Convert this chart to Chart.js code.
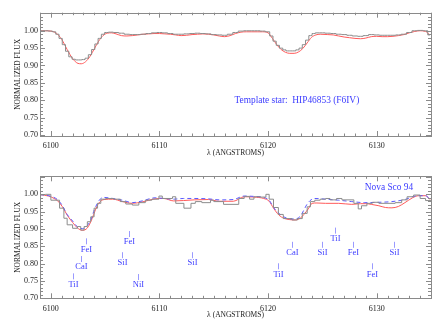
<!DOCTYPE html>
<html><head><meta charset="utf-8">
<script src="https://cdn.jsdelivr.net/npm/chart.js@4.4.1/dist/chart.umd.min.js"></script>
<style>
html,body{margin:0;padding:0;background:#fff;width:444px;height:327px;overflow:hidden}
canvas{position:absolute;left:0}
</style></head><body>
<canvas id="c1" width="444" height="160" style="top:0"></canvas>
<canvas id="c2" width="444" height="167" style="top:160px"></canvas>
<script>
// ---------- data ----------
const xTicks = [6100, 6110, 6120, 6130];
const xTickLabels = ['6100', '6110', '6120', '6130'];
const yTicks = [0.70, 0.75, 0.80, 0.85, 0.90, 0.95, 1.00];
const yTickLabels = ['0.70', '0.75', '0.80', '0.85', '0.90', '0.95', '1.00'];

// Top panel: template star observed (histogram) and model (red)
const topObsWave = [6099.0,6099.5,6100.0,6100.3,6100.6,6100.9,6101.2,6101.5,6101.8,6102.1,6102.4,6102.7,6103.0,6103.3,6103.6,6103.9,6104.2,6104.5,6104.8,6105.1,6105.5,6106.0,6106.5,6107.0,6107.5,6108.0,6108.5,6109.0,6109.5,6110.0,6110.5,6111.0,6111.5,6112.0,6112.5,6113.0,6113.5,6114.0,6114.5,6115.0,6115.5,6116.0,6116.5,6117.0,6117.5,6118.0,6118.5,6119.0,6119.5,6120.0,6120.3,6120.6,6120.9,6121.2,6121.5,6121.8,6122.1,6122.4,6122.7,6123.0,6123.3,6123.6,6123.9,6124.2,6124.5,6125.0,6125.5,6126.0,6126.5,6127.0,6127.5,6128.0,6128.5,6129.0,6129.5,6130.0,6130.5,6131.0,6131.5,6132.0,6132.5,6133.0,6133.5,6134.0,6134.5,6134.9];
const topObsFlux = [1.000,1.000,0.999,0.997,0.990,0.978,0.960,0.941,0.925,0.918,0.916,0.916,0.917,0.921,0.931,0.946,0.962,0.978,0.990,0.995,0.996,0.995,0.993,0.990,0.989,0.989,0.990,0.992,0.994,0.995,0.994,0.992,0.990,0.990,0.991,0.992,0.993,0.992,0.991,0.989,0.988,0.987,0.990,0.995,0.999,1.000,1.000,1.000,0.999,0.997,0.985,0.970,0.958,0.950,0.945,0.942,0.942,0.942,0.945,0.950,0.960,0.973,0.986,0.992,0.994,0.994,0.993,0.992,0.990,0.989,0.987,0.985,0.984,0.986,0.989,0.988,0.987,0.987,0.987,0.988,0.990,0.995,1.000,1.001,1.000,0.988];
const topModelWave = [6099.0,6099.5,6100.0,6100.5,6101.0,6101.5,6102.0,6102.5,6102.8,6103.2,6103.6,6104.0,6104.4,6104.8,6105.2,6105.6,6106.0,6106.5,6107.0,6107.5,6108.0,6108.5,6109.0,6109.5,6110.0,6110.5,6111.0,6111.5,6112.0,6112.5,6113.0,6113.5,6114.0,6114.5,6115.0,6115.5,6116.0,6116.5,6117.0,6117.5,6118.0,6118.5,6119.0,6119.5,6120.0,6120.4,6120.8,6121.2,6121.6,6122.0,6122.4,6122.8,6123.2,6123.6,6124.0,6124.4,6124.8,6125.5,6126.0,6126.5,6127.0,6127.5,6128.0,6128.5,6129.0,6129.5,6130.0,6130.5,6131.0,6131.5,6132.0,6132.5,6133.0,6133.5,6134.0,6134.5,6134.9];
const topModelFlux = [1.000,1.000,0.999,0.993,0.975,0.946,0.920,0.906,0.905,0.911,0.926,0.948,0.970,0.986,0.993,0.994,0.991,0.986,0.985,0.986,0.988,0.990,0.991,0.992,0.992,0.991,0.990,0.988,0.986,0.987,0.989,0.990,0.991,0.990,0.988,0.985,0.983,0.986,0.992,0.996,0.997,0.997,0.997,0.997,0.994,0.978,0.960,0.946,0.938,0.935,0.935,0.939,0.949,0.965,0.981,0.988,0.990,0.989,0.988,0.985,0.982,0.980,0.978,0.977,0.979,0.983,0.984,0.983,0.983,0.984,0.986,0.989,0.994,0.998,1.000,0.998,0.988];

// Bottom panel: Nova Sco 94 observed (histogram), model (red), model (blue dashed)
const novaObsWave = [6099.0,6099.5,6100.0,6100.8,6101.2,6101.5,6102.0,6102.45,6102.75,6103.06,6103.36,6103.67,6103.98,6104.3,6104.6,6105.05,6105.8,6106.4,6106.9,6107.5,6108.1,6108.7,6109.3,6109.95,6110.26,6111.2,6111.5,6112.25,6112.9,6113.3,6113.9,6114.7,6115.0,6115.9,6117.3,6117.8,6118.3,6118.7,6119.3,6119.8,6120.1,6120.5,6120.95,6121.4,6122.2,6122.7,6123.15,6123.6,6123.9,6124.3,6124.8,6125.3,6125.7,6126.3,6126.8,6127.9,6128.3,6128.6,6129.1,6129.6,6130.2,6131.7,6132.3,6132.8,6133.4,6134.0,6134.5,6135.0];
const novaObsFlux = [0.999,1.000,0.983,0.960,0.931,0.912,0.902,0.907,0.897,0.907,0.921,0.935,0.960,0.974,0.986,0.988,0.986,0.979,0.972,0.969,0.976,0.983,0.986,0.995,0.988,0.993,0.974,0.960,0.974,0.979,0.976,0.983,0.979,0.971,0.988,0.994,0.986,0.993,0.992,1.000,0.986,0.962,0.942,0.930,0.926,0.930,0.945,0.964,0.979,0.983,0.986,0.988,0.984,0.988,0.984,0.974,0.958,0.967,0.974,0.977,0.974,0.976,0.984,0.993,0.998,0.988,0.982,0.982];
const novaRedWave = [6099.0,6099.8,6100.3,6100.6,6101.07,6101.5,6102.0,6102.45,6102.9,6103.36,6103.8,6104.1,6104.4,6104.9,6105.7,6106.6,6107.5,6108.4,6109.6,6110.4,6111.3,6112.2,6113.2,6114.5,6115.5,6116.8,6117.8,6118.7,6119.6,6120.1,6120.5,6121.0,6121.45,6122.0,6122.5,6123.0,6123.3,6123.7,6124.05,6124.5,6125.3,6126.5,6127.7,6128.5,6129.0,6129.5,6130.2,6130.8,6131.4,6132.0,6132.6,6133.3,6133.85,6134.5,6134.9];
const novaRedFlux = [0.999,0.995,0.988,0.982,0.964,0.940,0.919,0.903,0.896,0.903,0.930,0.955,0.974,0.985,0.986,0.979,0.974,0.978,0.987,0.988,0.981,0.982,0.984,0.985,0.980,0.980,0.993,0.992,0.988,0.980,0.960,0.940,0.931,0.927,0.926,0.932,0.942,0.958,0.974,0.975,0.974,0.974,0.971,0.973,0.973,0.971,0.967,0.962,0.961,0.965,0.976,0.990,0.996,0.996,0.985];
const novaBlueWave = [6099.0,6099.8,6100.6,6101.07,6101.5,6102.0,6102.45,6102.9,6103.36,6103.7,6104.0,6104.3,6104.6,6104.9,6105.7,6106.6,6107.5,6108.4,6109.6,6110.4,6111.3,6112.2,6113.2,6114.5,6115.5,6116.8,6117.8,6118.7,6119.6,6120.1,6120.5,6121.0,6121.45,6122.0,6122.5,6123.0,6123.3,6123.6,6123.95,6124.3,6125.3,6126.5,6127.7,6128.9,6130.2,6131.4,6132.6,6133.4,6133.85,6134.5,6134.9];
const novaBlueFlux = [0.999,0.996,0.985,0.967,0.942,0.923,0.906,0.901,0.910,0.928,0.955,0.975,0.988,0.991,0.988,0.983,0.976,0.981,0.990,0.988,0.986,0.988,0.988,0.987,0.984,0.985,0.995,0.994,0.991,0.983,0.962,0.945,0.935,0.929,0.929,0.938,0.955,0.972,0.984,0.988,0.986,0.983,0.979,0.976,0.977,0.979,0.985,0.994,0.996,0.996,0.986];

// Line identifications (bottom panel)
const lineNames = ['TiI','CaI','FeI','SiI','FeI','NiI','SiI','TiI','CaI','SiI','TiI','FeI','FeI','SiI'];
const lineWaves = [6102.05,6102.76,6103.2,6106.52,6107.23,6108.05,6112.96,6120.95,6122.18,6124.93,6126.16,6127.85,6129.53,6131.58];
const lineLevels = [0.772,0.822,0.873,0.833,0.894,0.770,0.833,0.801,0.863,0.863,0.904,0.863,0.801,0.863];

// ---------- rendering ----------
const SERIF = '"Liberation Serif","DejaVu Serif",serif';
const FRAME = '#8a8a8a';
const TEXT = '#222';
const BLUE = '#3c3cff';
const pts = (xs, ys) => xs.map((x, i) => ({x, y: ys[i]}));

const framePlugin = {
  id: 'frame',
  afterDatasetsDraw(chart) {
    const {ctx, chartArea: a, scales: {x, y}} = chart;
    ctx.save();
    ctx.strokeStyle = FRAME;
    ctx.lineWidth = 1;
    ctx.strokeRect(Math.round(a.left) + 0.5, Math.round(a.top) + 0.5,
                   Math.round(a.right - a.left), Math.round(a.bottom - a.top));
    ctx.beginPath();
    for (let w = Math.ceil(x.min); w <= x.max; w++) {
      const px = Math.round(x.getPixelForValue(w)) + 0.5;
      const L = (w % 10 === 0) ? 5 : 2.5;
      ctx.moveTo(px, a.bottom); ctx.lineTo(px, a.bottom - L);
      ctx.moveTo(px, a.top); ctx.lineTo(px, a.top + L);
    }
    for (let k = Math.ceil(y.min * 100 - 1e-6); k <= y.max * 100 + 1e-6; k++) {
      const py = Math.round(y.getPixelForValue(k / 100)) + 0.5;
      const L = (k % 5 === 0) ? 5 : 3;
      ctx.moveTo(a.left, py); ctx.lineTo(a.left + L, py);
      ctx.moveTo(a.right, py); ctx.lineTo(a.right - L, py);
    }
    ctx.stroke();
    ctx.restore();
  }
};

function notesPlugin(texts, lines) {
  return {
    id: 'notes',
    afterDraw(chart) {
      const {ctx, scales: {x, y}} = chart;
      ctx.save();
      ctx.fillStyle = BLUE;
      ctx.textBaseline = 'middle';
      texts.forEach(t => {
        ctx.font = '9.4px ' + SERIF;
        ctx.textAlign = 'left';
        ctx.fillText(t.text, x.getPixelForValue(t.x), y.getPixelForValue(t.y));
      });
      if (lines) {
        ctx.font = '8.5px ' + SERIF;
        ctx.textAlign = 'center';
        ctx.strokeStyle = '#9a9aff';
        ctx.lineWidth = 1;
        lineNames.forEach((n, i) => {
          const px = Math.round(x.getPixelForValue(lineWaves[i])) + 0.5;
          const py = y.getPixelForValue(lineLevels[i]);
          ctx.beginPath(); ctx.moveTo(px, py); ctx.lineTo(px, py + 6); ctx.stroke();
          ctx.fillText(n, px, py + 11);
        });
      }
      ctx.restore();
    }
  };
}

function makeChart(id, datasets, o) {
  return new Chart(document.getElementById(id), {
    type: 'line',
    data: {datasets},
    options: {
      responsive: false, animation: false, devicePixelRatio: 1,
      layout: {padding: {top: o.padTop, right: 13, left: 0, bottom: 0}},
      plugins: {legend: {display: false}, tooltip: {enabled: false}},
      elements: {point: {radius: 0}},
      scales: {
        x: {
          type: 'linear', min: 6099, max: 6135,
          afterBuildTicks: s => { s.ticks = xTicks.map(v => ({value: v})); },
          afterFit: s => { s.height = o.xAxisH; },
          grid: {display: false, drawTicks: false}, border: {display: false},
          ticks: {padding: o.xTickPad, color: TEXT, font: {family: SERIF, size: 8},
                  maxRotation: 0, autoSkip: false, callback: (v, i) => xTickLabels[i]},
          title: {display: true, text: 'λ (ANGSTROMS)', color: TEXT,
                  font: {family: SERIF, size: 7.5}, padding: {top: 0, bottom: o.xTitlePad}}
        },
        y: {
          min: o.yMin, max: 1.052,
          afterBuildTicks: s => { s.ticks = yTicks.map(v => ({value: v})); },
          afterFit: s => { s.width = 40; },
          grid: {display: false, drawTicks: false}, border: {display: false},
          ticks: {padding: 2, color: TEXT, font: {family: SERIF, size: 8},
                  autoSkip: false, callback: (v, i) => yTickLabels[i]},
          title: {display: true, text: 'NORMALIZED FLUX', color: TEXT,
                  font: {family: SERIF, size: 7.5}, padding: {top: 13.5, bottom: 0}}
        }
      }
    },
    plugins: [framePlugin, notesPlugin(o.texts, o.lines)]
  });
}

makeChart('c1', [
  {data: pts(topObsWave, topObsFlux), borderColor: '#8c8c8c', borderWidth: 1, stepped: 'middle'},
  {data: pts(topModelWave, topModelFlux), borderColor: '#ff5a5a', borderWidth: 1, cubicInterpolationMode: 'monotone'}
], {padTop: 12.7, xAxisH: 24, xTickPad: 5.5, xTitlePad: 2.5, yMin: 0.697,
    texts: [{text: 'Template star:  HIP46853 (F6IV)', x: 6116.9, y: 0.80}], lines: false});

makeChart('c2', [
  {data: pts(novaObsWave, novaObsFlux), borderColor: '#8c8c8c', borderWidth: 1, stepped: 'before'},
  {data: pts(novaBlueWave, novaBlueFlux), borderColor: '#5a5aff', borderWidth: 1, borderDash: [4, 3], cubicInterpolationMode: 'monotone'},
  {data: pts(novaRedWave, novaRedFlux), borderColor: '#ff5a5a', borderWidth: 1, cubicInterpolationMode: 'monotone'}
], {padTop: 16.3, xAxisH: 28.7, xTickPad: 6, xTitlePad: 7.5, yMin: 0.70,
    texts: [{text: 'Nova Sco 94', x: 6128.9, y: 1.019}], lines: true});
</script>
</body></html>
